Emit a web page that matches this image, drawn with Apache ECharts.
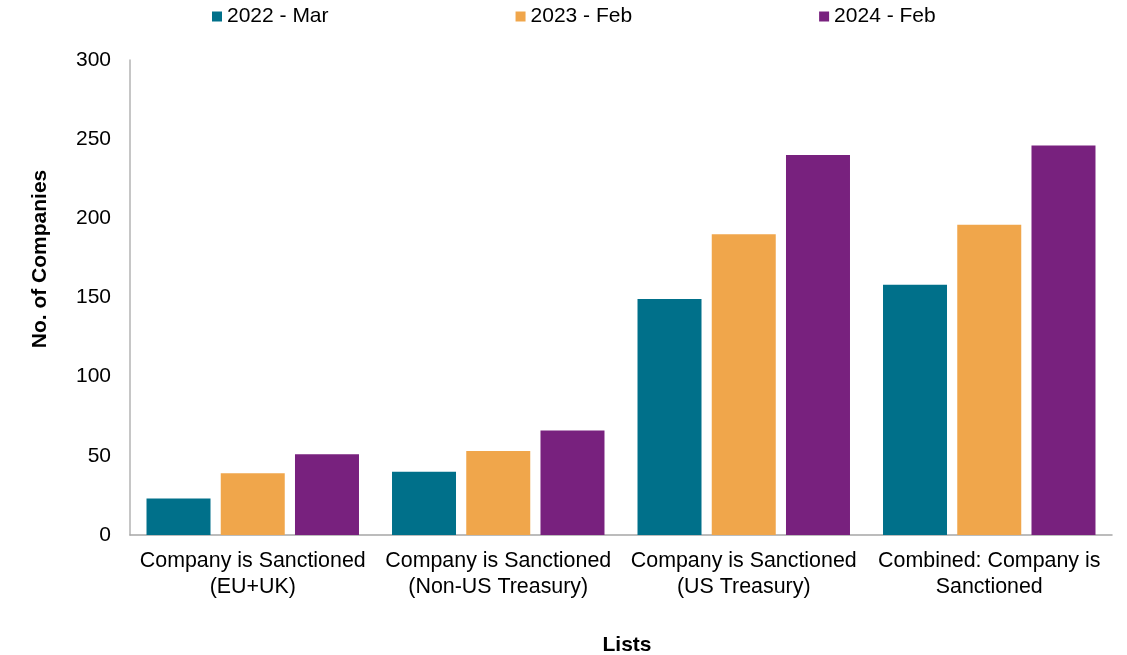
<!DOCTYPE html>
<html>
<head>
<meta charset="utf-8">
<script src="https://cdn.jsdelivr.net/npm/echarts@6/dist/echarts.min.js"></script>
<style>html,body{margin:0;padding:0;background:#fff}#c{width:1127px;height:655px}</style>
</head>
<body>
<div id="c"></div>
<script>
const categories = [
  "Company is Sanctioned\n(EU+UK)",
  "Company is Sanctioned\n(Non-US Treasury)",
  "Company is Sanctioned\n(US Treasury)",
  "Combined: Company is\nSanctioned"
];
const seriesNames = ["2022 - Mar", "2023 - Feb", "2024 - Feb"];
const values2022 = [23, 40, 149, 158];
const values2023 = [39, 53, 190, 196];
const values2024 = [51, 66, 240, 246];
const yTicks = { min: 0, max: 300, interval: 50 };
const yAxisTitle = "No. of Companies";
const xAxisTitle = "Lists";

const colors = ["#00708a", "#f0a64b", "#78217e"];
const FONT = "Liberation Sans, Arial, sans-serif";

const chart = echarts.init(document.getElementById('c'), null, { renderer: 'canvas' });
const allValues = [values2022, values2023, values2024];
chart.setOption({
  animation: false,
  color: colors,
  textStyle: { fontFamily: FONT },
  legend: {
    left: 212, top: 6, padding: 0,
    itemWidth: 10, itemHeight: 10, itemGap: 187,
    icon: 'rect',
    textStyle: { fontSize: 21, color: '#000', fontFamily: FONT },
    data: seriesNames
  },
  grid: { left: 130, right: 15, top: 60, bottom: 120 },
  xAxis: {
    type: 'category',
    data: categories,
    axisLine: { lineStyle: { color: '#a6a6a6', width: 1.5 } },
    axisTick: { show: false },
    axisLabel: { fontSize: 21.4, color: '#000', lineHeight: 26, margin: 13, interval: 0, fontFamily: FONT }
  },
  yAxis: {
    type: 'value',
    min: yTicks.min, max: yTicks.max, interval: yTicks.interval,
    axisLine: { show: true, lineStyle: { color: '#b3b3b3', width: 1.5 } },
    axisTick: { show: false },
    splitLine: { show: false },
    axisLabel: { fontSize: 21, color: '#000', margin: 19, fontFamily: FONT }
  },
  graphic: [
    { type: 'text', x: 40, y: 259, rotation: Math.PI / 2,
      style: { text: yAxisTitle, fill: '#000', font: 'bold 21px ' + FONT, textAlign: 'center', textVerticalAlign: 'middle' } },
    { type: 'text', x: 627, y: 645,
      style: { text: xAxisTitle, fill: '#000', font: 'bold 21px ' + FONT, textAlign: 'center', textVerticalAlign: 'middle' } }
  ],
  series: seriesNames.map((n, i) => ({
    name: n, type: 'bar', data: allValues[i],
    barWidth: 64, barGap: '16%'
  }))
});
</script>
</body>
</html>
